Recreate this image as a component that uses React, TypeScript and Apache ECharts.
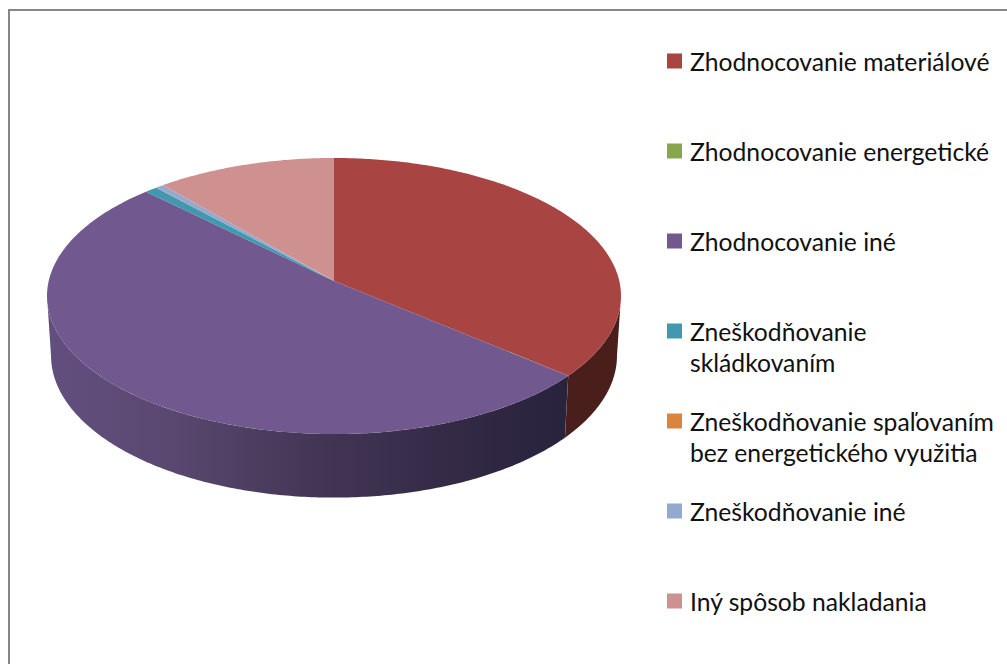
import React, { useEffect, useRef } from "react";
import * as echarts from "echarts";

const categories = [
  "Zhodnocovanie materiálové",
  "Zhodnocovanie energetické",
  "Zhodnocovanie iné",
  "Zneškodňovanie\nskládkovaním",
  "Zneškodňovanie spaľovaním\nbez energetického využitia",
  "Zneškodňovanie iné",
  "Iný spôsob nakladania",
];
const values = [36.2, 0.01, 51.3, 0.8, 0.01, 0.5, 11.25];
const colors = ["#A84542", "#89A54E", "#71588F", "#4198AF", "#DB843D", "#93A9CF", "#CF9190"];
const legendCentres = [61, 151, 241, 331, 421, 511, 601];
const wallStops: Record<number, [number, string][]> = {
  0: [[0, "#4A1E1A"], [1, "#4A1E1A"]],
  2: [[0, "#634F7F"], [0.25, "#59476F"], [0.5, "#443756"], [0.75, "#352B47"], [0.98, "#29233D"], [1, "#29233D"]],
  3: [[0, "#2C6676"], [1, "#2C6676"]],
};

const CX = 334;
const K = 0.1087;
const TOP = { v: 281, a: 136.4, b: 285.3 };
const BOTTOM = { v: 340.2, a: 140.3, b: 281.3 };
const RIM_FROM = (Math.acos(-K) * 180) / Math.PI;
const RIM_TO = 360 - RIM_FROM;

const total = values.reduce((s, v) => s + v, 0);
const spans = values.map((_, i) => {
  const start = values.slice(0, i).reduce((s, v) => s + v, 0);
  return [(start / total) * 360, ((start + values[i]) / total) * 360];
});

function project(deg: number, p: { v: number; a: number; b: number }): number[] {
  const r = (deg * Math.PI) / 180;
  const X = Math.sin(r);
  const Y = -Math.cos(r);
  const d = 1 - K * Y;
  return [CX + (p.b * X) / d, p.v + (p.a * Y) / d];
}

function arc(a: number, b: number, p: { v: number; a: number; b: number }): number[][] {
  const n = Math.max(2, Math.ceil((b - a) * 1.5));
  const out: number[][] = [];
  for (let i = 0; i <= n; i++) out.push(project(a + ((b - a) * i) / n, p));
  return out;
}

export default function App() {
  const ref = useRef<HTMLDivElement>(null);
  useEffect(() => {
    const chart = echarts.init(ref.current!, undefined, { renderer: "svg" });
    const wallSeries = {
      type: "custom",
      name: "__walls",
      coordinateSystem: "none",
      silent: true,
      z: 1,
      data: spans.map((s, i) => [s[0], s[1], i]),
      renderItem: (_: any, api: any) => {
        const a = api.value(0);
        const b = api.value(1);
        const i = api.value(2);
        const from = Math.max(a, RIM_FROM);
        const to = Math.min(b, RIM_TO);
        if (to <= from) return { type: "group", children: [] };
        const pts = [...arc(from, to, TOP), ...arc(from, to, BOTTOM).reverse()];
        const stops = wallStops[i] ?? [[0, "#555555"], [1, "#555555"]];
        return {
          type: "polygon",
          shape: { points: pts },
          style: {
            fill: new echarts.graphic.LinearGradient(
              0, 0, 1, 0,
              stops.map(([offset, color]) => ({ offset, color }))
            ),
          },
        };
      },
    };
    const topSeries = categories.map((name, i) => ({
      type: "custom",
      name,
      coordinateSystem: "none",
      silent: true,
      z: 2,
      itemStyle: { color: colors[i] },
      data: [[spans[i][0], spans[i][1]]],
      renderItem: (_: any, api: any) => ({
        type: "polygon",
        shape: {
          points: [project(0, { v: TOP.v, a: 0, b: 0 }), ...arc(api.value(0), api.value(1), TOP)],
        },
        style: { fill: colors[i] },
      }),
    }));
    chart.setOption({
      animation: false,
      backgroundColor: "#ffffff",
      graphic: [
        {
          type: "polyline",
          silent: true,
          shape: { points: [[9, 670], [9, 10], [1012, 10]] },
          style: { stroke: "#868686", lineWidth: 2, fill: "none" },
        },
      ],
      legend: categories.map((name, i) => {
        const two = name.includes("\n");
        return {
          data: [name],
          left: 667,
          top: legendCentres[i] - (two ? 47.5 : 16.5),
          orient: "vertical",
          padding: 0,
          selectedMode: false,
          icon: "rect",
          itemWidth: 15,
          itemHeight: 15,
          itemGap: 0,
          itemStyle: { borderWidth: 0 },
          formatter: (n: string) => (n.includes("\n") ? "\n" + n : n),
          textStyle: {
            fontFamily: "Lato",
            fontSize: 24.7,
            lineHeight: 31,
            color: "#111111",
            padding: [0, 0, 2, 3],
          },
        };
      }),
      series: [wallSeries, ...topSeries],
    });
    return () => chart.dispose();
  }, []);
  return (
    <div
      ref={ref}
      style={{ position: "fixed", left: 0, top: 0, width: 1007, height: 664 }}
    />
  );
}
